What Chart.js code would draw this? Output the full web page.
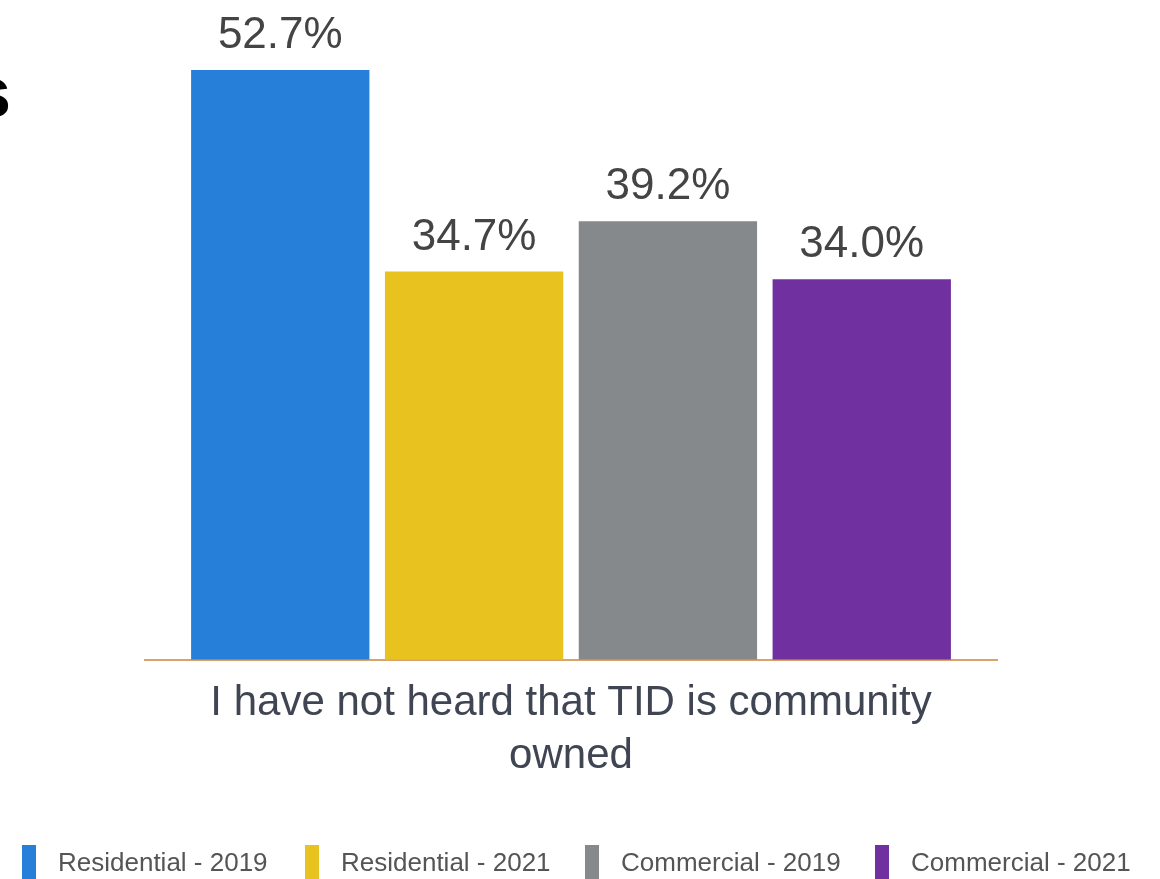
<!DOCTYPE html>
<html>
<head>
<meta charset="utf-8">
<script src="https://cdn.jsdelivr.net/npm/chart.js@4"></script>
<style>
  html, body { margin: 0; padding: 0; background: #fff; }
  #wrap { width: 1160px; height: 879px; }
</style>
</head>
<body>
<div id="wrap"><canvas id="myChart" width="1160" height="879"></canvas></div>
<script>
var categories = [['I have not heard that TID is community', 'owned']];
var seriesNames = ['Residential - 2019', 'Residential - 2021', 'Commercial - 2019', 'Commercial - 2021'];
var seriesValues = [[52.7], [34.7], [39.2], [34.0]];
var barColors = ['#2680d9', '#e8c21f', '#85898c', '#7030a0'];

// value labels above bars, legend row at the bottom, clipped title letter on the left
var extras = {
    id: 'extras',
    afterDatasetsDraw: function (chart) {
        var ctx = chart.ctx;
        ctx.save();
        ctx.font = '44px "Liberation Sans", Arial, sans-serif';
        ctx.fillStyle = '#444';
        ctx.textAlign = 'center';
        ctx.textBaseline = 'alphabetic';
        chart.data.datasets.forEach(function (ds, i) {
            var meta = chart.getDatasetMeta(i);
            meta.data.forEach(function (bar, j) {
                ctx.fillText(ds.data[j].toFixed(1) + '%', bar.x, bar.y - 22);
            });
        });

        // legend
        var legendX = [22, 305, 585, 875];
        ctx.font = '26px "Liberation Sans", Arial, sans-serif';
        ctx.textAlign = 'left';
        chart.data.datasets.forEach(function (ds, i) {
            ctx.fillStyle = ds.backgroundColor;
            ctx.fillRect(legendX[i], 845, 14, 34);
            ctx.fillStyle = '#555';
            ctx.fillText(ds.label, legendX[i] + 36, 871);
        });

        ctx.font = 'bold 72px "Liberation Sans", Arial, sans-serif';
        ctx.fillStyle = '#000';
        ctx.fillText('s', -29, 117);
        ctx.restore();
    }
};

new Chart(document.getElementById('myChart'), {
    type: 'bar',
    data: {
        labels: categories,
        datasets: seriesNames.map(function (name, i) {
            return {
                label: name,
                data: seriesValues[i],
                backgroundColor: barColors[i],
                categoryPercentage: 0.91,
                barPercentage: 0.92
            };
        })
    },
    options: {
        responsive: false,
        animation: false,
        layout: { padding: { left: 145, right: 163, top: 60, bottom: 87 } },
        scales: {
            x: {
                grid: { display: false },
                border: { color: '#d9a46c', width: 2 },
                ticks: {
                    color: '#3f4552',
                    font: { size: 42, family: '"Liberation Sans", Arial, sans-serif', lineHeight: 1.24 },
                    padding: 10,
                    maxRotation: 0
                }
            },
            y: {
                display: false,
                min: 0,
                max: 53.6
            }
        },
        plugins: {
            legend: { display: false },
            tooltip: { enabled: false }
        }
    },
    plugins: [extras]
});
</script>
</body>
</html>
